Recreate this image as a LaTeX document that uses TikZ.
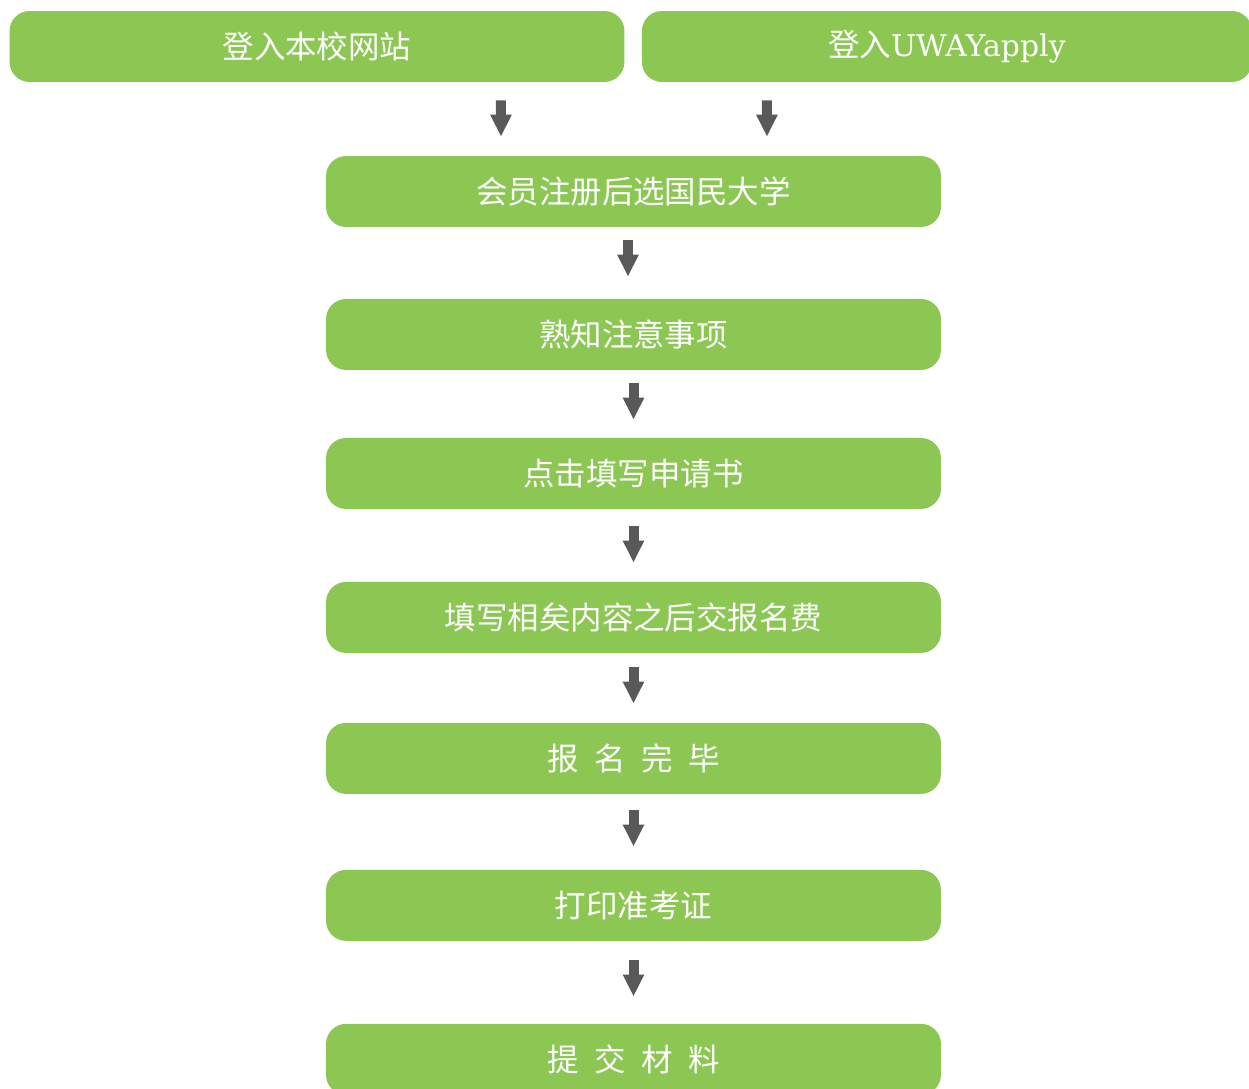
\documentclass[tikz,border=0pt]{standalone}
\usepackage{fontspec}
\setmainfont{Noto Sans CJK SC}
\newfontfamily\latinserif{DejaVu Serif}
\usetikzlibrary{arrows.meta, positioning}
\definecolor{leaf}{HTML}{8DC753}
\definecolor{arrowgray}{HTML}{595959}
\tikzstyle{stage}=[fill=leaf,rectangle,rounded corners=0.4cm,minimum width=12.3cm,minimum height=1.42cm,text=white,font=\fontsize{17.9}{20}\selectfont]
\tikzstyle{down}=[draw=arrowgray,line width=2mm,-{Triangle[width=4mm,length=4.4mm]}]
\newcommand{\gap}{\hspace{.5em}}
\newcommand{\uwayname}{{\latinserif\fontsize{17}{20}\selectfont UWAYapply}}

\begin{document}
\begin{tikzpicture}[x=0.02cm,y=-0.02cm]
  \useasboundingbox (0,0) rectangle (1249,1089);
  \node[stage] (site) at (317,46.5) {登入本校网站};
  \node[stage, right of=site, node distance=12.6cm, minimum width=12.2cm] (uway) {登入\uwayname};
  \node[stage] (signup) at (633.5,191.5) {会员注册后选国民大学};
  \node[stage, below of=signup, node distance=2.86cm] (notice) {熟知注意事项};
  \node[stage, below of=notice, node distance=2.78cm] (form) {点击填写申请书};
  \node[stage, below of=form, node distance=2.88cm] (fee) {填写相矣内容之后交报名费};
  \node[stage, below of=fee, node distance=2.82cm] (done) {报\gap 名\gap 完\gap 毕};
  \node[stage, below of=done, node distance=2.94cm] (ticket) {打印准考证};
  \node[stage, below of=ticket, node distance=3.08cm] (submit) {提\gap 交\gap 材\gap 料};
  \draw[down, shorten <=3.6mm, shorten >=3.8mm] ([xshift=3.68cm]site.south) -- ([xshift=-2.65cm]signup.north);
  \draw[down, shorten <=3.6mm, shorten >=3.8mm] ([xshift=-3.6cm]uway.south) -- ([xshift=2.67cm]signup.north);
  \draw[down, shorten <=2.6mm, shorten >=4.4mm] ([xshift=-1.1mm]signup.south) -- ([xshift=-1.1mm]notice.north);
  \draw[down, shorten <=2.6mm, shorten >=3.6mm] (notice) -- (form);
  \draw[down, shorten <=3.4mm, shorten >=3.8mm] (form) -- (fee);
  \draw[down, shorten <=2.8mm, shorten >=3.8mm] (fee) -- (done);
  \draw[down, shorten <=3.2mm, shorten >=4.6mm] (done) -- (ticket);
  \draw[down, shorten <=3.8mm, shorten >=5.4mm] (ticket) -- (submit);
\end{tikzpicture}
\end{document}
